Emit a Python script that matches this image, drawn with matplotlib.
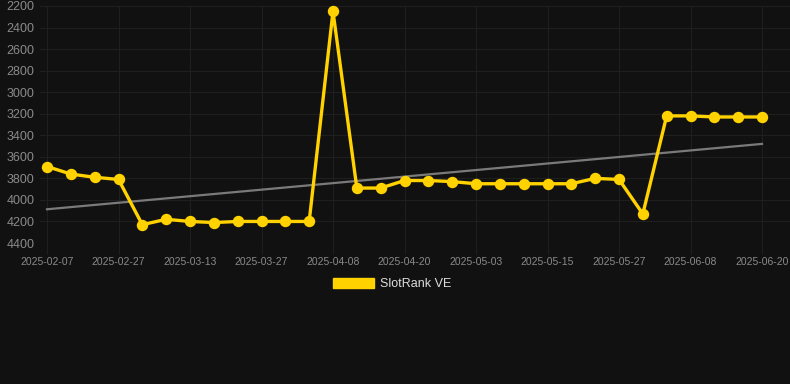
import numpy as np
import matplotlib
matplotlib.use("Agg")
import matplotlib.pyplot as plt
from matplotlib.patches import Patch

# category dates (only every 3rd one is labelled on the axis)
dates = [
    "2025-02-07", "2025-02-14", "2025-02-21", "2025-02-27", "2025-03-04",
    "2025-03-09", "2025-03-13", "2025-03-18", "2025-03-23", "2025-03-27",
    "2025-03-31", "2025-04-04", "2025-04-08", "2025-04-12", "2025-04-16",
    "2025-04-20", "2025-04-24", "2025-04-29", "2025-05-03", "2025-05-07",
    "2025-05-11", "2025-05-15", "2025-05-19", "2025-05-23", "2025-05-27",
    "2025-05-31", "2025-06-04", "2025-06-08", "2025-06-12", "2025-06-16",
    "2025-06-20",
]
rank = [
    3690, 3760, 3790, 3810, 4230, 4180, 4200, 4210, 4200, 4200,
    4200, 4200, 2250, 3890, 3890, 3820, 3820, 3830, 3850, 3850,
    3850, 3850, 3850, 3800, 3810, 4130, 3220, 3220, 3230, 3230,
    3230,
]
y_ticks = [2200, 2400, 2600, 2800, 3000, 3200, 3400, 3600, 3800, 4000, 4200, 4400]
series_name = "SlotRank VE"

bg = "#111111"
gold = "#FFD200"
grid_c = "#1f1f1f"
text_c = "#8a8a8a"

plt.rcParams["font.family"] = ["Liberation Sans", "DejaVu Sans"]

fig = plt.figure(figsize=(7.9, 3.84), dpi=100)
fig.patch.set_facecolor(bg)
W, H = 790, 384
ax = fig.add_axes([40 / W, 1 - 243 / H, 750 / W, 237 / H])
ax.set_facecolor(bg)

x = np.arange(len(rank))
# trend line (least squares fit of the rank values)
k, b = np.polyfit(x, rank, 1)
ax.plot(x, k * x + b, color="#7a7a7a", lw=1.6, zorder=2)

ax.plot(x, rank, color=gold, lw=2.4, marker="o", ms=7.2,
        markerfacecolor=gold, markeredgecolor=gold, zorder=3, clip_on=False)

px = 715 / 30
ax.set_xlim(-7 / px, 30 + 28 / px)
ax.set_ylim(4400, 2200)
ax.set_yticks(y_ticks)
ax.set_xticks(x[::3])
ax.set_xticklabels([dates[i] for i in x[::3]])

ax.grid(True, color=grid_c, lw=0.8)
ax.set_axisbelow(True)
for s in ax.spines.values():
    s.set_visible(False)
ax.tick_params(axis="y", length=0, pad=4, labelcolor=text_c, labelsize=9)
ax.tick_params(axis="x", length=8, color=grid_c, pad=2, labelcolor=text_c, labelsize=7.5)

leg = fig.legend(handles=[Patch(facecolor=gold, edgecolor=gold, label=series_name)],
                 loc="center", bbox_to_anchor=(392 / W, 1 - 284 / H),
                 frameon=False, handlelength=3.3, handleheight=0.8,
                 handletextpad=0.5, fontsize=9)
for t in leg.get_texts():
    t.set_color("#dddddd")

fig.savefig("out.png", dpi=100, facecolor=bg)
